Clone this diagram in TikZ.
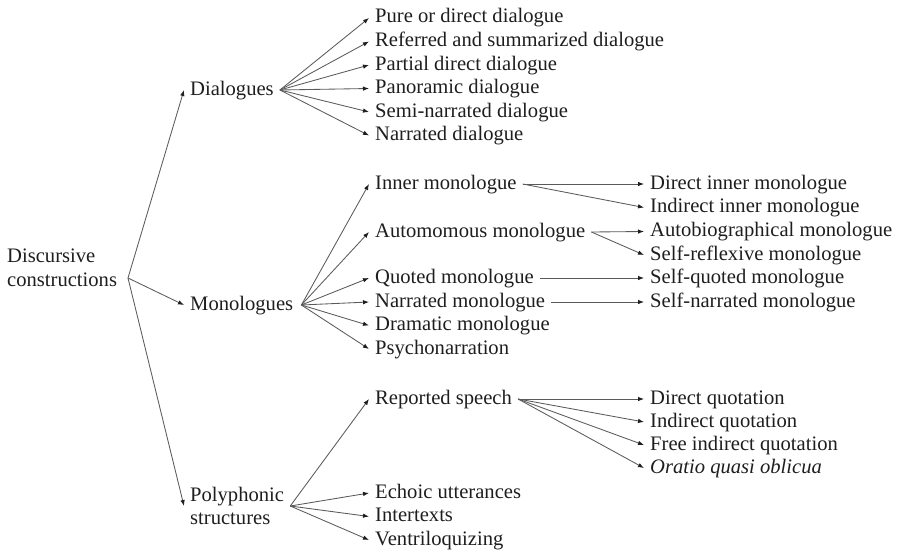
\documentclass[tikz,border=0pt]{standalone}
\usepackage{fontspec}
\setmainfont{Liberation Serif}
\usetikzlibrary{arrows.meta}
\definecolor{ink}{HTML}{1E1E1E}
\definecolor{wire}{HTML}{5A5A5A}
\begin{document}
\begin{tikzpicture}[x=1pt,y=-1pt,
  lbl/.style={anchor=west, inner xsep=6pt, inner ysep=0pt, text height=14pt, text depth=4pt,
    font=\fontsize{20.6}{23.5}\selectfont, text=ink},
  lbl2/.style={anchor=west, inner xsep=6pt, inner ysep=0pt, align=left,
    font=\fontsize{20.6}{23.5}\selectfont, text=ink},
  arr/.style={draw=wire, line width=0.85pt, -{Latex[length=6pt,width=4.5pt,color=ink]}}]
\useasboundingbox (0,0) rectangle (899,554);
% level 0
\node[lbl2] (disc) at (1,268) {Discursive\\constructions};
\coordinate (f0) at (128,278);
% level 1
\node[lbl] (dial) at (184,90) {Dialogues};
\node[lbl] (mono) at (184,305) {Monologues};
\node[lbl2] (poly) at (184,506) {Polyphonic\\structures};
% dialogues children
\node[lbl] (d1) at (369,18) {Pure or direct dialogue};
\node[lbl] (d2) at (369,41.5) {Referred and summarized dialogue};
\node[lbl] (d3) at (369,65) {Partial direct dialogue};
\node[lbl] (d4) at (369,88.5) {Panoramic dialogue};
\node[lbl] (d5) at (369,112) {Semi-narrated dialogue};
\node[lbl] (d6) at (369,135.5) {Narrated dialogue};
% monologue children
\node[lbl] (m1) at (369,184) {Inner monologue};
\node[lbl] (m2) at (369,232) {Automomous monologue};
\node[lbl] (m3) at (369,278) {Quoted monologue};
\node[lbl] (m4) at (369,302) {Narrated monologue};
\node[lbl] (m5) at (369,325.5) {Dramatic monologue};
\node[lbl] (m6) at (369,349) {Psychonarration};
% right column
\node[lbl] (r1) at (644,184) {Direct inner monologue};
\node[lbl] (r2) at (644,207.5) {Indirect inner monologue};
\node[lbl] (r3) at (644,231.5) {Autobiographical monologue};
\node[lbl] (r4) at (644,255) {Self-reflexive monologue};
\node[lbl] (r5) at (644,278) {Self-quoted monologue};
\node[lbl] (r6) at (644,302) {Self-narrated monologue};
% polyphonic children
\node[lbl] (p1) at (369,399) {Reported speech};
\node[lbl] (p2) at (369,493) {Echoic utterances};
\node[lbl] (p3) at (369,516.5) {Intertexts};
\node[lbl] (p4) at (369,540) {Ventriloquizing};
% quotation
\node[lbl] (q1) at (644,399) {Direct quotation};
\node[lbl] (q2) at (644,422) {Indirect quotation};
\node[lbl] (q3) at (644,445) {Free indirect quotation};
\node[lbl] (q4) at (644,468) {\itshape Oratio quasi oblicua};
% connectors
\draw[arr] (f0) -- (dial.west);
\draw[arr] (f0) -- (mono.west);
\draw[arr] (f0) -- (poly.west);
\foreach \n in {d1,d2,d3,d4,d5,d6} \draw[arr] (dial.east) -- (\n.west);
\foreach \n in {m1,m2,m3,m4,m5,m6} \draw[arr] ([xshift=2pt]mono.east) -- (\n.west);
\foreach \n in {p1,p2,p3,p4} \draw[arr] (poly.east) -- (\n.west);
\draw[arr] (m1.east) -- (r1.west);
\draw[arr] (m1.east) -- (r2.west);
\draw[arr] (m2.east) -- (r3.west);
\draw[arr] (m2.east) -- (r4.west);
\draw[arr] (m3.east) -- (r5.west);
\draw[arr] (m4.east) -- (r6.west);
\foreach \n in {q1,q2,q3,q4} \draw[arr] (p1.east) -- (\n.west);
\end{tikzpicture}
\end{document}
